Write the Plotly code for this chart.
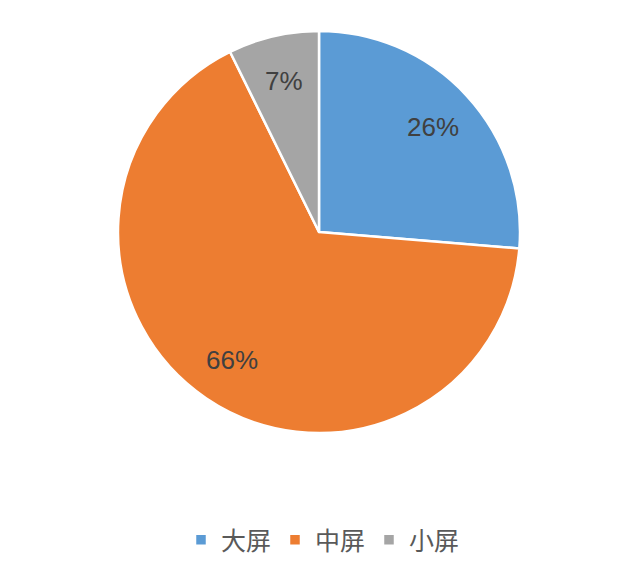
import math
import plotly.graph_objects as go

categories = ["大屏", "中屏", "小屏"]
values = [26.3, 66.4, 7.3]
colors = ["#5B9BD5", "#ED7D31", "#A5A5A5"]

W, H = 640, 569
OFF = 8  # default page body margin
cx, cy, r = 319 - OFF, 232 - OFF, 201

x0, x1 = (cx - r) / W, (cx + r) / W
y0, y1 = (H - cy - r) / H, (H - cy + r) / H

fig = go.Figure(go.Pie(
    labels=categories,
    values=values,
    sort=False,
    direction="clockwise",
    rotation=0,
    marker=dict(colors=colors, line=dict(color="white", width=2.5)),
    textinfo="none",
    domain=dict(x=[x0, x1], y=[y0, y1]),
    hoverinfo="label+percent",
))

# percentage labels placed along each slice bisector
total = sum(values)
acc = 0.0
frac = 0.77
for v in values:
    mid = (acc + v / 2) / total * 2 * math.pi
    acc += v
    px = cx + frac * r * math.sin(mid)
    py = cy - frac * r * math.cos(mid)
    fig.add_annotation(
        x=px / W, y=(H - py) / H, xref="paper", yref="paper",
        text=f"{round(v / total * 100)}%", showarrow=False,
        xanchor="center", yanchor="middle",
        font=dict(family="Liberation Sans, Arial", size=26, color="#404040"),
    )

fig.update_layout(
    width=W, height=H,
    margin=dict(l=0, r=0, t=0, b=0),
    paper_bgcolor="white",
    plot_bgcolor="white",
    showlegend=True,
    legend=dict(
        orientation="h",
        x=(322 - OFF) / W, xanchor="center",
        y=(H - 540 + OFF) / H, yanchor="middle",
        font=dict(family="Noto Sans CJK SC", size=25, color="#595959"),
        entrywidth=49, entrywidthmode="pixels",
    ),
)

fig.write_html("out.html")
